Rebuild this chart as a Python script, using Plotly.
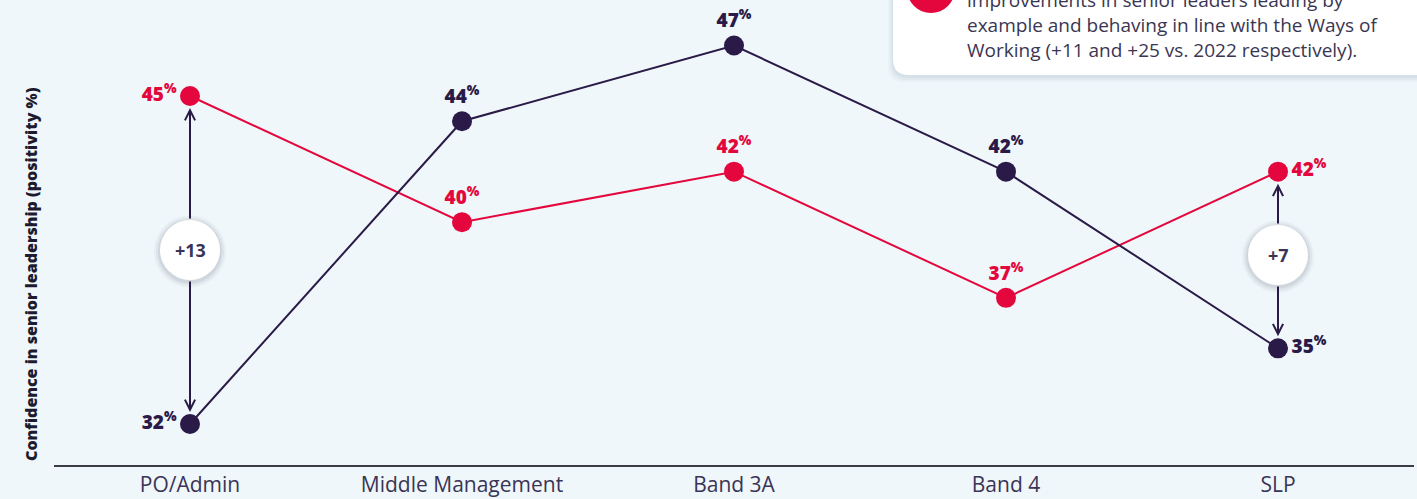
import plotly.graph_objects as go

# Categories and survey results (positivity %)
categories = ["PO/Admin", "Middle Management", "Band 3A", "Band 4", "SLP"]
series_red = [45, 40, 42, 37, 42]
series_dark = [32, 44, 47, 42, 35]

# Text positions for the value labels
pos_red = ["middle left", "top center", "top center", "top center", "middle right"]
pos_dark = ["middle left", "top center", "top center", "top center", "middle right"]

# Gap callouts: category index and vertical position of the bubble
gap_idx = [0, 4]
gap_bubble_y = [38.9, 38.7]

note_lines = [
    "improvements in senior leaders leading by",
    "example and behaving in line with the Ways of",
    "Working (+11 and +25 vs. 2022 respectively).",
]

RED = "#e4073d"
DARK = "#2a1a47"
BG = "#eff7fa"
TXT = "#3a3456"
FONT = "Open Sans"

x = list(range(len(categories)))

fig = go.Figure()

fig.add_trace(go.Scatter(
    x=x, y=series_red, mode="lines+markers+text",
    line=dict(color=RED, width=2),
    marker=dict(color=RED, size=20),
    text=[f"{v}<sup>%</sup>" for v in series_red],
    textposition=pos_red,
    textfont=dict(color=RED, size=19, family=FONT, weight=800),
    cliponaxis=False, showlegend=False,
))
fig.add_trace(go.Scatter(
    x=x, y=series_dark, mode="lines+markers+text",
    line=dict(color=DARK, width=2),
    marker=dict(color=DARK, size=20),
    text=[f"{v}<sup>%</sup>" for v in series_dark],
    textposition=pos_dark,
    textfont=dict(color=DARK, size=19, family=FONT, weight=800),
    cliponaxis=False, showlegend=False,
))

shapes = []
annotations = []

# Gap arrows with a white bubble showing the difference
for i, by in zip(gap_idx, gap_bubble_y):
    hi = max(series_red[i], series_dark[i])
    lo = min(series_red[i], series_dark[i])
    for tip in (hi, lo):
        annotations.append(dict(
            x=i, y=tip, ax=i, ay=by, xref="x", yref="y", axref="x", ayref="y",
            text="", showarrow=True, arrowhead=5, arrowsize=1, arrowwidth=2,
            arrowcolor=DARK, standoff=12, startstandoff=30,
        ))
    for r, op in ((36, 0.04), (34, 0.05), (32, 0.07)):
        shapes.append(dict(
            type="circle", xref="x", yref="y", xsizemode="pixel", ysizemode="pixel",
            xanchor=i, yanchor=by - 0.06, x0=-r, x1=r, y0=-r, y1=r,
            fillcolor=f"rgba(40,40,70,{op})", line=dict(width=0), layer="above",
        ))
    shapes.append(dict(
        type="circle", xref="x", yref="y", xsizemode="pixel", ysizemode="pixel",
        xanchor=i, yanchor=by, x0=-30, x1=30, y0=-30, y1=30,
        fillcolor="white", line=dict(width=0), layer="above",
    ))
    annotations.append(dict(
        x=i, y=by, xref="x", yref="y", text=f"+{series_red[i] - series_dark[i]}",
        showarrow=False, font=dict(size=18, color=TXT, family=FONT, weight=700),
    ))

# Note box in the top-right corner
W, H = 1360.0, 465.0
def px(v):
    return (v - 54) / W
def py(v):
    return (H - v) / H

bx0, bx1, by0, by1, rad = 893, 1440, -20, 75, 16
def box_path(dx=0, dy=0, grow=0):
    x0, x1 = bx0 + dx - grow, bx1 + dx + grow
    y0, y1 = by0 + dy - grow, by1 + dy + grow
    return (
        f"M {px(x0)},{py(y0)} L {px(x1)},{py(y0)} L {px(x1)},{py(y1)} "
        f"L {px(x0 + rad)},{py(y1)} Q {px(x0)},{py(y1)} {px(x0)},{py(y1 - rad)} Z"
    )

for g, op in ((5, 0.03), (3, 0.04), (1, 0.05)):
    shapes.append(dict(type="path", xref="paper", yref="paper", path=box_path(0, 2, g),
                       fillcolor=f"rgba(40,60,90,{op})", line=dict(width=0), layer="above"))
shapes.append(dict(type="path", xref="paper", yref="paper", path=box_path(),
                   fillcolor="white", line=dict(width=0), layer="above"))
shapes.append(dict(
    type="circle", xref="paper", yref="paper",
    x0=px(931 - 24), x1=px(931 + 24), y0=py(-11 + 24), y1=py(-11 - 24),
    fillcolor=RED, line=dict(width=0), layer="above",
))
for k, line in enumerate(note_lines):
    annotations.append(dict(
        x=px(965), y=py(0 + 25 * k), xref="paper", yref="paper",
        xanchor="left", yanchor="middle", text=line, showarrow=False,
        font=dict(size=19, color="#3a3652", family=FONT),
    ))

# Vertical axis title
annotations.append(dict(
    x=px(31), y=py(274), xref="paper", yref="paper", textangle=-90,
    xanchor="center", yanchor="middle",
    text="Confidence in senior leadership (positivity %)", showarrow=False,
    font=dict(size=16, color="#1e1b2e", family=FONT, weight=800),
))

fig.update_layout(
    width=1417, height=499,
    margin=dict(l=54, r=3, t=0, b=34),
    paper_bgcolor=BG, plot_bgcolor=BG,
    shapes=shapes, annotations=annotations,
    xaxis=dict(
        tickmode="array", tickvals=x, ticktext=categories,
        range=[-0.5, 4.5], showgrid=False, zeroline=False,
        showline=True, linecolor="#3c3c44", linewidth=2,
        ticks="", tickfont=dict(size=21, color=TXT, family=FONT),
    ),
    yaxis=dict(range=[30.375, 48.805], visible=False, showgrid=False, zeroline=False),
)

fig.write_html("out.html")
